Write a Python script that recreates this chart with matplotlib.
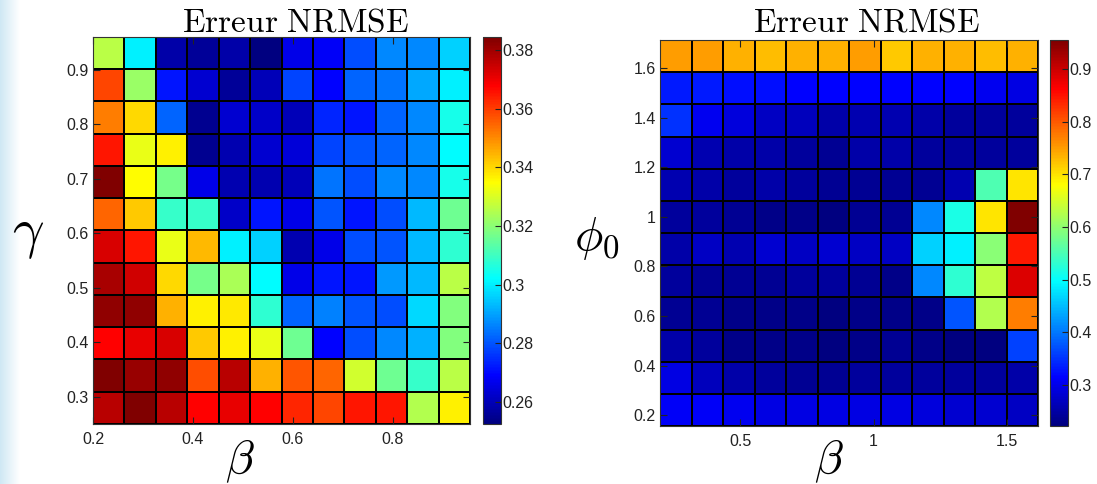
import numpy as np
import matplotlib
matplotlib.use('Agg')
import matplotlib.pyplot as plt
from matplotlib.colors import LinearSegmentedColormap

plt.rcParams['mathtext.fontset'] = 'cm'
plt.rcParams['font.family'] = ['Liberation Sans', 'DejaVu Sans']

# parameter grids (cell edges)
beta_left = np.linspace(0.2, 0.954, 13)
gamma = np.linspace(0.25, 0.96, 13)
beta_right = np.linspace(0.2, 1.616, 13)
phi0 = np.linspace(0.156, 1.713, 13)

# NRMSE, rows listed from top (largest gamma) to bottom
nrmse_gamma = np.array([
    [0.326, 0.300, 0.258, 0.256, 0.258, 0.253, 0.266, 0.268, 0.279, 0.287, 0.287, 0.296],
    [0.359, 0.322, 0.272, 0.263, 0.256, 0.260, 0.278, 0.269, 0.282, 0.284, 0.291, 0.300],
    [0.352, 0.340, 0.282, 0.255, 0.263, 0.262, 0.260, 0.274, 0.272, 0.282, 0.287, 0.305],
    [0.365, 0.332, 0.337, 0.255, 0.259, 0.263, 0.264, 0.278, 0.280, 0.282, 0.287, 0.302],
    [0.384, 0.335, 0.317, 0.266, 0.259, 0.259, 0.260, 0.284, 0.279, 0.287, 0.287, 0.305],
    [0.355, 0.342, 0.309, 0.309, 0.262, 0.272, 0.266, 0.280, 0.272, 0.279, 0.293, 0.316],
    [0.373, 0.365, 0.332, 0.344, 0.300, 0.296, 0.259, 0.266, 0.279, 0.280, 0.293, 0.308],
    [0.379, 0.374, 0.340, 0.317, 0.324, 0.302, 0.266, 0.272, 0.272, 0.289, 0.293, 0.326],
    [0.382, 0.382, 0.345, 0.337, 0.338, 0.308, 0.282, 0.286, 0.280, 0.279, 0.297, 0.319],
    [0.368, 0.371, 0.373, 0.342, 0.337, 0.332, 0.316, 0.269, 0.279, 0.287, 0.292, 0.319],
    [0.384, 0.381, 0.382, 0.358, 0.377, 0.345, 0.357, 0.355, 0.329, 0.316, 0.309, 0.326],
    [0.377, 0.384, 0.377, 0.368, 0.371, 0.368, 0.363, 0.359, 0.365, 0.365, 0.325, 0.337],
])[::-1]

# NRMSE, rows listed from top (largest phi0) to bottom
nrmse_phi = np.array([
    [0.750, 0.750, 0.735, 0.728, 0.735, 0.735, 0.750, 0.720, 0.735, 0.735, 0.728, 0.735],
    [0.332, 0.332, 0.325, 0.325, 0.314, 0.314, 0.314, 0.314, 0.314, 0.314, 0.303, 0.295],
    [0.350, 0.303, 0.288, 0.273, 0.266, 0.251, 0.259, 0.259, 0.251, 0.244, 0.244, 0.244],
    [0.281, 0.259, 0.251, 0.251, 0.244, 0.237, 0.251, 0.251, 0.244, 0.244, 0.244, 0.244],
    [0.259, 0.251, 0.244, 0.251, 0.244, 0.237, 0.237, 0.237, 0.237, 0.259, 0.552, 0.698],
    [0.244, 0.244, 0.237, 0.229, 0.229, 0.222, 0.237, 0.237, 0.413, 0.515, 0.698, 0.955],
    [0.251, 0.273, 0.259, 0.281, 0.273, 0.281, 0.273, 0.273, 0.464, 0.486, 0.596, 0.845],
    [0.244, 0.237, 0.237, 0.237, 0.244, 0.244, 0.237, 0.229, 0.413, 0.530, 0.632, 0.889],
    [0.237, 0.237, 0.229, 0.229, 0.229, 0.222, 0.229, 0.229, 0.229, 0.376, 0.625, 0.772],
    [0.251, 0.244, 0.229, 0.229, 0.229, 0.222, 0.229, 0.237, 0.229, 0.222, 0.222, 0.361],
    [0.295, 0.266, 0.251, 0.244, 0.237, 0.237, 0.244, 0.244, 0.244, 0.244, 0.244, 0.251],
    [0.310, 0.310, 0.303, 0.295, 0.295, 0.295, 0.295, 0.295, 0.288, 0.281, 0.281, 0.273],
])[::-1]

cbar_ticks_left = [0.26, 0.28, 0.30, 0.32, 0.34, 0.36, 0.38]
cbar_ticks_right = [0.3, 0.4, 0.5, 0.6, 0.7, 0.8, 0.9]

# MATLAB style jet
mjet = LinearSegmentedColormap.from_list('mjet', [
    (0.0, (0, 0, 0.5)), (0.125, (0, 0, 1)), (0.375, (0, 1, 1)),
    (0.625, (1, 1, 0)), (0.875, (1, 0, 0)), (1.0, (0.5, 0, 0))], N=256)

W, H = 1097, 484
fig = plt.figure(figsize=(W / 100, H / 100), dpi=100)

# light blue slide edge on the left
bg = fig.add_axes([0, 0, 20 / W, 1], zorder=-5)
bg.imshow(np.linspace(0, 1, 50)[None, :], aspect='auto',
          cmap=LinearSegmentedColormap.from_list('edge', ['#cfe8f4', '#ffffff']))
bg.axis('off')

tick_col = '#222222'


def panel(rect, crect, x, y, z, vmin, vmax, xticks, yticks, cticks):
    ax = fig.add_axes(rect)
    m = ax.pcolormesh(x, y, z, cmap=mjet, vmin=vmin, vmax=vmax,
                      edgecolors='k', linewidth=1.2)
    ax.set_xlim(x[0], x[-1])
    ax.set_ylim(y[0], y[-1])
    ax.set_xticks(xticks)
    ax.set_xticklabels([f'{t:g}' for t in xticks])
    ax.set_yticks(yticks)
    ax.set_yticklabels([f'{t:g}' for t in yticks])
    ax.tick_params(direction='in', top=True, right=True, length=5,
                   labelsize=11.5, colors=tick_col, pad=3)
    ax.tick_params(axis='x', pad=6)
    for s in ax.spines.values():
        s.set_color('#333333')
    cax = fig.add_axes(crect)
    cb = fig.colorbar(m, cax=cax, ticks=cticks)
    cb.ax.set_yticklabels([f'{t:g}' for t in cticks])
    cb.ax.tick_params(direction='in', length=4, labelsize=11.5,
                      colors=tick_col, pad=1)
    cb.outline.set_edgecolor('#333333')
    return ax


panel([93 / W, 60 / H, 377 / W, 387 / H], [483 / W, 60 / H, 18 / W, 387 / H],
      beta_left, gamma, nrmse_gamma, 0.2525, 0.3845,
      [0.2, 0.4, 0.6, 0.8], [0.3, 0.4, 0.5, 0.6, 0.7, 0.8, 0.9],
      cbar_ticks_left)
panel([660 / W, 58 / H, 378 / W, 386 / H], [1050 / W, 58 / H, 18 / W, 386 / H],
      beta_right, phi0, nrmse_phi, 0.222, 0.955,
      [0.5, 1, 1.5], [0.2, 0.4, 0.6, 0.8, 1, 1.2, 1.4, 1.6],
      cbar_ticks_right)

# titles and axis labels
title = r'$\mathrm{Erreur\ NRMSE}$'
fig.text(296 / W, 1 - 32 / H, title, fontsize=24, ha='center', va='baseline')
fig.text(867 / W, 1 - 32 / H, title, fontsize=24, ha='center', va='baseline')
fig.text(28 / W, 1 - 235 / H, r'$\gamma$', fontsize=40, ha='center', va='center')
fig.text(240 / W, 1 - 461 / H, r'$\beta$', fontsize=34, ha='center', va='center')
fig.text(597 / W, 1 - 238 / H, r'$\phi_0$', fontsize=34, ha='center', va='center')
fig.text(829 / W, 1 - 461 / H, r'$\beta$', fontsize=34, ha='center', va='center')

fig.savefig('out.png', dpi=100)
